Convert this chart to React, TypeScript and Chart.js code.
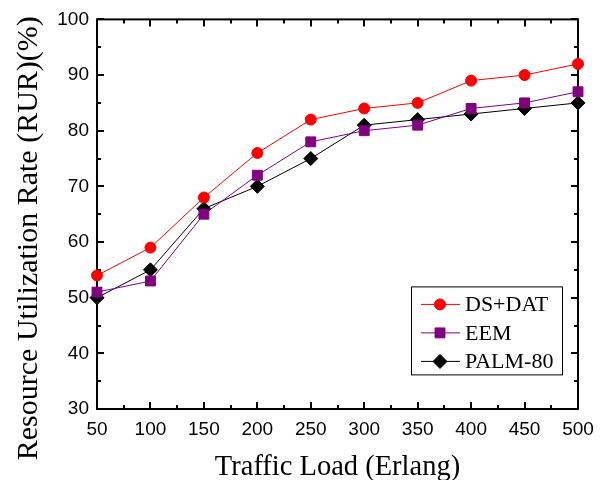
import React, { useEffect, useRef } from 'react';
import { Chart, registerables } from 'chart.js';
import { drawPoint } from 'chart.js/helpers';

Chart.register(...registerables);

const trafficLoads = [50, 100, 150, 200, 250, 300, 350, 400, 450, 500];
const dsDatValues = [54, 59, 68, 76, 82, 84, 85, 89, 90, 92];
const eemValues = [51, 53, 65, 72, 78, 80, 81, 84, 85, 87];
const palmValues = [50, 55, 66, 70, 75, 81, 82, 83, 84, 85];
const seriesNames = ['DS+DAT', 'EEM', 'PALM-80'];
const seriesColors = ['#ff0000', '#800080', '#000000'];
const seriesShapes = ['circle', 'rect', 'rectRot'];
const seriesRadii = [5.5, 7, 7];
const xTitle = 'Traffic Load (Erlang)';
const yTitle = 'Resource Utilization Rate (RUR)(%)';

const SERIF = "'Liberation Serif', 'Times New Roman', serif";
const SANS = "'Liberation Sans', Arial, sans-serif";

const framePlugin = {
  id: 'frame',
  beforeDatasetsDraw(chart: any) {
    const { ctx, chartArea: a, scales } = chart;
    const x = scales.x;
    const y = scales.y;
    ctx.save();
    ctx.strokeStyle = '#000';
    ctx.lineWidth = 2;
    ctx.strokeRect(a.left, a.top, a.right - a.left, a.bottom - a.top);
    const seg = (x1: number, y1: number, x2: number, y2: number) => {
      ctx.beginPath();
      ctx.moveTo(x1, y1);
      ctx.lineTo(x2, y2);
      ctx.stroke();
    };
    const xt = x.ticks.map((t: any) => t.value);
    const yt = y.ticks.map((t: any) => t.value);
    const withMinor = (vals: number[]) => {
      const out: { v: number; major: boolean }[] = [];
      vals.forEach((v, i) => {
        out.push({ v, major: true });
        if (i < vals.length - 1) out.push({ v: (v + vals[i + 1]) / 2, major: false });
      });
      return out;
    };
    withMinor(xt).forEach(({ v, major }) => {
      const px = Math.round(x.getPixelForValue(v));
      const len = major ? 7 : 4;
      seg(px, a.bottom, px, a.bottom - len);
      seg(px, a.top, px, a.top + len);
    });
    withMinor(yt).forEach(({ v, major }) => {
      const py = Math.round(y.getPixelForValue(v));
      const len = major ? 7 : 4;
      seg(a.left, py, a.left + len, py);
      seg(a.right, py, a.right - len, py);
    });
    ctx.restore();
  },
};

const titlesPlugin = {
  id: 'axisTitles',
  afterDraw(chart: any) {
    const { ctx, chartArea: a } = chart;
    ctx.save();
    ctx.fillStyle = '#000';
    ctx.textAlign = 'center';
    ctx.textBaseline = 'alphabetic';
    ctx.font = `28.5px ${SERIF}`;
    ctx.fillText(xTitle, (a.left + a.right) / 2, a.bottom + 66);
    ctx.translate(a.left - 60, (a.top + a.bottom) / 2 + 24);
    ctx.rotate(-Math.PI / 2);
    ctx.font = `30px ${SERIF}`;
    ctx.fillText(yTitle, 0, 0);
    ctx.restore();
  },
};

const legendPlugin = {
  id: 'boxLegend',
  afterDraw(chart: any) {
    const { ctx, chartArea: a } = chart;
    const left = a.right - 167;
    const top = a.top + 267;
    const w = 151;
    const h = 88;
    ctx.save();
    ctx.fillStyle = '#fff';
    ctx.fillRect(left, top, w, h);
    ctx.strokeStyle = '#000';
    ctx.lineWidth = 1;
    ctx.strokeRect(left + 0.5, top + 0.5, w, h);
    ctx.font = `22px ${SERIF}`;
    ctx.textBaseline = 'middle';
    ctx.textAlign = 'left';
    chart.data.datasets.forEach((ds: any, i: number) => {
      const cy = top + 18 + i * 28.5;
      ctx.strokeStyle = ds.borderColor;
      ctx.lineWidth = 1;
      ctx.beginPath();
      ctx.moveTo(left + 10, cy);
      ctx.lineTo(left + 49, cy);
      ctx.stroke();
      ctx.fillStyle = ds.pointBackgroundColor;
      ctx.strokeStyle = ds.pointBorderColor;
      drawPoint(ctx, { pointStyle: ds.pointStyle, radius: ds.pointRadius, rotation: 0, borderWidth: 1 }, left + 29, cy);
      ctx.fillStyle = '#000';
      ctx.fillText(ds.label, left + 54, cy + 1);
    });
    ctx.restore();
  },
};

export default function App() {
  const ref = useRef<HTMLCanvasElement>(null);
  useEffect(() => {
    if (!ref.current) return;
    const values = [dsDatValues, eemValues, palmValues];
    const chart = new Chart(ref.current, {
      type: 'line',
      data: {
        datasets: seriesNames.map((name, i) => ({
          label: name,
          data: trafficLoads.map((x, j) => ({ x, y: values[i][j] })),
          borderColor: seriesColors[i],
          backgroundColor: seriesColors[i],
          pointBackgroundColor: seriesColors[i],
          pointBorderColor: seriesColors[i],
          pointStyle: seriesShapes[i],
          pointRadius: seriesRadii[i],
          pointBorderWidth: 1,
          borderWidth: 1,
          tension: 0,
          clip: false,
        })),
      },
      options: {
        animation: false,
        responsive: false,
        devicePixelRatio: 1,
        layout: { padding: { left: 0, right: 27, top: 17, bottom: 0 } },
        plugins: { legend: { display: false }, tooltip: { enabled: false } },
        scales: {
          x: {
            type: 'linear',
            min: 50,
            max: 500,
            border: { display: false },
            grid: { display: false, drawTicks: false },
            ticks: { stepSize: 50, padding: 9, color: '#000', font: { family: SANS, size: 19 } },
            title: { display: false, text: xTitle },
            afterFit: (s: any) => { s.height = 71; },
          },
          y: {
            type: 'linear',
            min: 30,
            max: 100,
            border: { display: false },
            grid: { display: false, drawTicks: false },
            ticks: { stepSize: 10, padding: 8, color: '#000', font: { family: SANS, size: 19 } },
            title: { display: false, text: yTitle },
            afterFit: (s: any) => { s.width = 97; },
          },
        },
      },
      plugins: [framePlugin, titlesPlugin, legendPlugin],
    });
    return () => chart.destroy();
  }, []);
  return (
    <div style={{ position: 'fixed', left: 0, top: 0, width: 605, height: 480, background: '#fff' }}>
      <canvas ref={ref} width={605} height={480} />
    </div>
  );
}
